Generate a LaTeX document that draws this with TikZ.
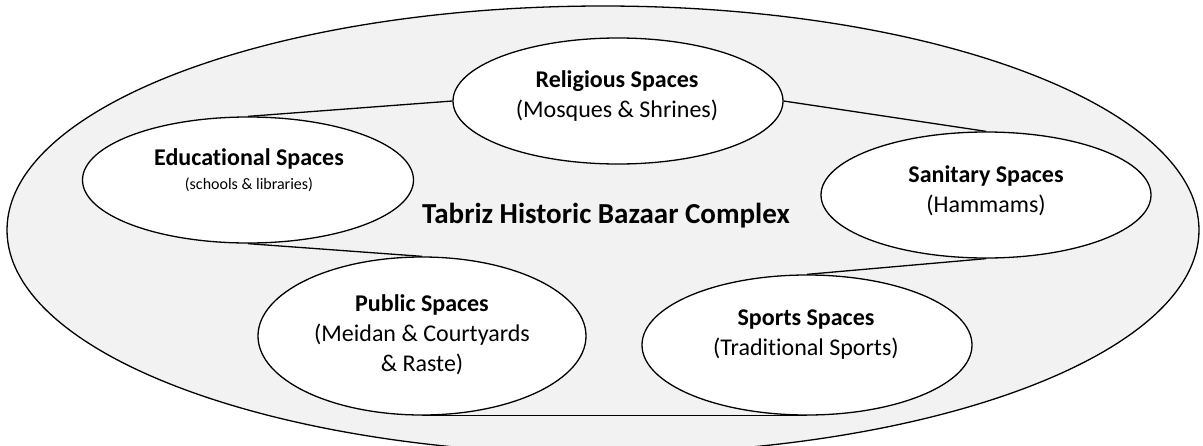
\documentclass[tikz,border=0pt]{standalone}
\usepackage{fontspec}
\setmainfont{Carlito}[Ligatures=NoCommon]
\usetikzlibrary{shapes.geometric, positioning}
\definecolor{bazaargray}{HTML}{F2F2F2}
\tikzset{
  x=1pt, y=-1pt, % one unit is one pixel of the sketch, y goes down
  spacearea/.style={ellipse, draw, fill=white, inner sep=0pt}, % the white ellipses
  spacetext/.style={align=center, inner sep=0pt, font=\fontsize{24}{30}\selectfont}, % their labels
}

\begin{document}
\begin{tikzpicture}[line width=1.3pt]
  \useasboundingbox (0,0) rectangle (1203,445);
  \clip (0,0) rectangle (1203,445);

  \node[ellipse, draw, fill=bazaargray, inner sep=0pt, minimum width=1192pt, minimum height=448pt] (bazaar) at (603,230) {};
  \node[font=\bfseries\fontsize{29}{35}\selectfont, inner sep=0pt] (title) at (606,216) {Tabriz Historic Bazaar Complex};

  \node[spacearea, minimum width=330pt, minimum height=126pt] (religious) at (618,101) {};
  \node[spacearea, minimum width=331pt, minimum height=126pt] (educational) at (248,180) {};
  \node[spacearea, minimum width=330pt, minimum height=126pt] (sanitary) at (986,195) {};
  \node[spacearea, minimum width=328pt, minimum height=158pt] (public) at (422,336) {};
  \node[spacearea, minimum width=330pt, minimum height=140pt] (sports) at (807,345) {};

  \node[spacetext] (religioustext) at (617,96) {\textbf{Religious Spaces}\\(Mosques \& Shrines)};
  \node[spacetext] (educationaltext) at (249,170) {\textbf{Educational Spaces}\\[-6pt]{\fontsize{16}{19}\selectfont (schools \& libraries)}};
  \node[spacetext] (sanitarytext) at (986,191) {\textbf{Sanitary Spaces}\\(Hammams)};
  \node[spacetext] (publictext) at (422,335) {\textbf{Public Spaces}\\(Meidan \& Courtyards\\\& Raste)};
  \node[spacetext] (sportstext) at (806,335) {\textbf{Sports Spaces}\\(Traditional Sports)};

  \draw (religious.west) -- (educational.north);
  \draw (religious.east) -- (sanitary.north);
  \draw (educational.south) -- (public.north);
  \draw (sanitary.south) -- (sports.north);
  \draw (public.south) -- (sports.south);
\end{tikzpicture}
\end{document}
